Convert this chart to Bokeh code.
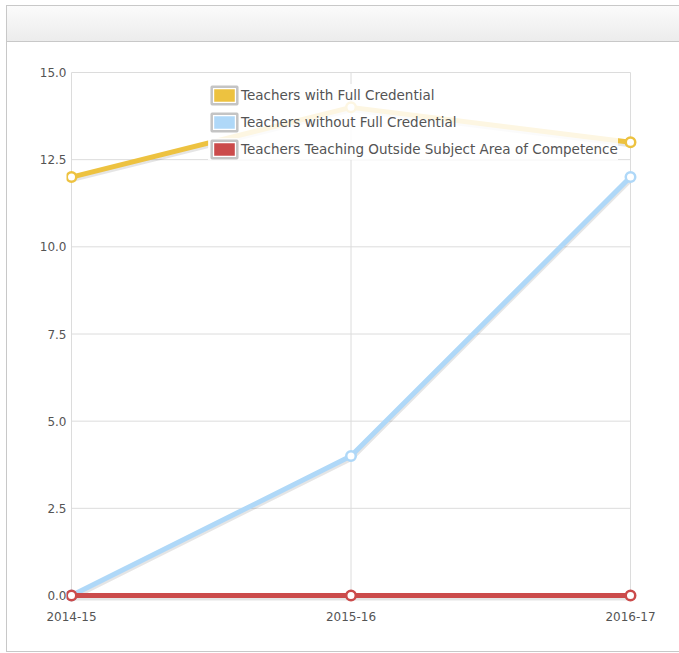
from bokeh.plotting import figure
from bokeh.layouts import column
from bokeh.models import (ColumnDataSource, Range1d, FixedTicker, Legend, LegendItem, Div)
from bokeh.transform import dodge
from bokeh.embed import file_html
from bokeh.resources import INLINE

# Data
years = ["2014-15", "2015-16", "2016-17"]
full_credential = [12, 14, 13]
without_credential = [0, 4, 12]
outside_subject = [0, 0, 0]
series_names = [
    "Teachers with Full Credential",
    "Teachers without Full Credential",
    "Teachers Teaching Outside Subject Area of Competence",
]
series_values = [full_credential, without_credential, outside_subject]
series_colors = ["#edc240", "#afd8f8", "#cb4b4b"]
y_ticks = [0, 2.5, 5, 7.5, 10, 12.5, 15]

# Page geometry (pixels, page coordinates)
PAGE_W = 679
panel_left, panel_top = 6, 5
header_h = 37
canvas_x0, canvas_y0 = panel_left + 1, panel_top + header_h
canvas_w, canvas_h = PAGE_W - canvas_x0, 609

data_left, data_right, data_top, data_bottom = 71, 630, 72, 595
pad_l, pad_r, pad_t, pad_b = 5, 7, 1, 9
frame_l, frame_r = data_left - pad_l, data_right + pad_r
frame_t, frame_b = data_top - pad_t, data_bottom + pad_b

px_x = (data_right - data_left) / (len(years) - 1)
px_y = (data_bottom - data_top) / (y_ticks[-1] - y_ticks[0])

FONT = "DejaVu Sans"
TEXT = "#545454"
GRID = "#dcdcdc"
BORDER = "#c8c8c8"

xs = list(range(len(years)))

p = figure(
    width=canvas_w, height=canvas_h, output_backend="svg", toolbar_location=None,
    x_range=Range1d(xs[0] - pad_l / px_x, xs[-1] + pad_r / px_x),
    y_range=Range1d(y_ticks[0] - pad_b / px_y, y_ticks[-1] + pad_t / px_y),
    min_border_left=frame_l - canvas_x0,
    min_border_right=canvas_x0 + canvas_w - frame_r,
    min_border_top=frame_t - canvas_y0,
    min_border_bottom=canvas_y0 + canvas_h - frame_b,
    background_fill_color="white", border_fill_color="white",
)
p.outline_line_color = None
p.grid.visible = False

# Legend swatches (zero-size rects, hidden under the series markers)
swatches = []
for vals, color in zip(series_values, series_colors):
    src = ColumnDataSource(dict(x=xs, y=vals))
    inner = p.rect("x", "y", width=0, height=0, source=src, fill_color=color,
                   line_color="white", line_width=5)
    outer = p.rect("x", "y", width=0, height=0, source=src, fill_color=None,
                   line_color="#c4c4c4", line_width=2.5)
    swatches.append([inner, outer])

# Grid lines limited to the data area
p.segment(x0=xs, x1=xs, y0=[y_ticks[0]] * len(xs), y1=[y_ticks[-1]] * len(xs),
          line_color=GRID, line_width=1)
p.segment(x0=[xs[0]] * len(y_ticks), x1=[xs[-1]] * len(y_ticks), y0=y_ticks, y1=y_ticks,
          line_color=GRID, line_width=1)

# Series: shadow, line, points
for vals, color in zip(series_values, series_colors):
    src = ColumnDataSource(dict(x=xs, y=vals))
    p.line("x", dodge("y", -2.0 / px_y, range=p.y_range), source=src,
           line_color="black", line_alpha=0.10, line_width=6)
    p.line("x", "y", source=src, line_color=color, line_width=5)
    p.scatter("x", "y", source=src, size=9.5, fill_color="white",
              line_color=color, line_width=2.5)

legend = Legend(
    items=[LegendItem(label=n, renderers=r) for n, r in zip(series_names, swatches)],
    location=(208 - frame_l, frame_b - 160), orientation="vertical",
    padding=2, margin=0, spacing=5,
    glyph_width=32, glyph_height=22, label_height=22, label_standoff=1,
    background_fill_color="white", background_fill_alpha=0.85,
    border_line_color=None,
    label_text_font=FONT, label_text_font_size="13.5px", label_text_color=TEXT,
)
p.add_layout(legend)

# Axes
p.xaxis.ticker = FixedTicker(ticks=xs)
p.xaxis.major_label_overrides = {x: lab for x, lab in zip(xs, years)}
p.yaxis.ticker = FixedTicker(ticks=y_ticks)
p.yaxis.major_label_overrides = {t: f"{t:.1f}" for t in y_ticks}
for ax in (p.xaxis, p.yaxis):
    ax.axis_line_color = None
    ax.major_tick_line_color = None
    ax.minor_tick_line_color = None
    ax.major_tick_out = 0
    ax.major_tick_in = 0
    ax.major_label_text_font = FONT
    ax.major_label_text_font_size = "12px"
    ax.major_label_text_color = TEXT
p.yaxis.major_label_standoff = 0
p.xaxis.major_label_standoff = 7

# Panel header bar
header = Div(
    text="", width=canvas_w, height=header_h, margin=0,
    styles={
        "box-sizing": "border-box",
        "background": "linear-gradient(#fbfbfb, #ececec)",
        "border-top": f"1px solid {BORDER}",
        "border-bottom": f"1px solid {BORDER}",
    },
)

page = column(
    header, p, margin=(panel_top, 0, 0, panel_left), spacing=0,
    styles={"border-left": f"1px solid {BORDER}", "border-bottom": f"1px solid {BORDER}"},
)

open("out.html", "w").write(file_html(page, INLINE))
